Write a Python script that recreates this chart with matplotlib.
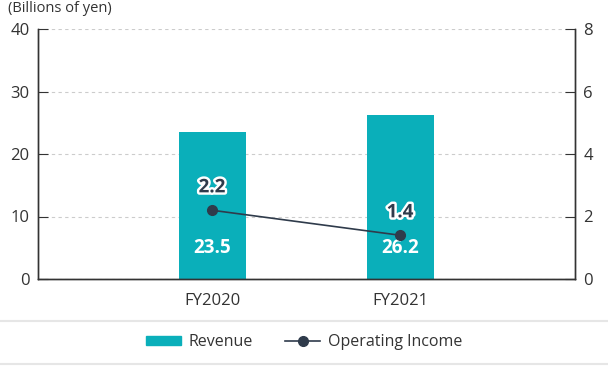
import matplotlib
matplotlib.use("Agg")
import matplotlib.pyplot as plt
import matplotlib.patheffects as pe
from matplotlib.lines import Line2D
from matplotlib.patches import Patch

# --- Data --------------------------------------------------------------------
categories = ["FY2020", "FY2021"]
revenue = [23.5, 26.2]
operating_income = [2.2, 1.4]
left_ticks = [0, 10, 20, 30, 40]
right_ticks = [0, 2, 4, 6, 8]

BAR = "#0aafba"
LINE = "#2f3b4b"
TEXT = "#333333"

plt.rcParams["font.family"] = ["Open Sans", "DejaVu Sans"]

fig = plt.figure(figsize=(6.08, 3.66), dpi=100)
ax = fig.add_axes([38 / 608, 1 - 279 / 366, (575 - 38) / 608, 250 / 366])
ax2 = ax.twinx()

x = list(range(len(categories)))
ax.bar(x, revenue, width=0.356, color=BAR, zorder=2)
ax.set_xlim(-0.926, 1.93)
ax.set_ylim(0, 40)
ax.set_yticks(left_ticks)
ax.set_xticks(x)
ax.set_xticklabels(categories)
ax.grid(axis="y", color="#cccccc", linestyle=(0, (3, 3)), linewidth=0.8, zorder=0)
ax.set_axisbelow(True)

ax2.set_ylim(0, 8)
ax2.set_yticks(right_ticks)
ax2.plot(x, operating_income, color=LINE, marker="o", markersize=7, linewidth=1.2, zorder=3)

for a in (ax, ax2):
    for s in a.spines.values():
        s.set_color("#333333")
        s.set_linewidth(1.0)
    a.spines["top"].set_visible(False)
ax.tick_params(axis="y", direction="in", length=7, colors="#333333", labelsize=12, pad=6)
ax2.tick_params(axis="y", direction="in", length=7, colors="#333333", labelsize=12, pad=6)
ax.tick_params(axis="x", length=0, labelsize=12, colors="#333333", pad=10)

# value labels
for xi, v in zip(x, revenue):
    ax.text(xi, 5, f"{v}", ha="center", va="center", color="white",
            fontsize=13.5, fontweight="bold", zorder=4)
for xi, v in zip(x, operating_income):
    ax2.annotate(f"{v}", (xi, v), xytext=(0, 16.5), textcoords="offset points",
                 ha="center", va="center", color=LINE, fontsize=13.5, fontweight="bold",
                 path_effects=[pe.withStroke(linewidth=3.5, foreground="white")], zorder=5)

fig.text(8 / 608, 1 - 8 / 366, "(Billions of yen)", ha="left", va="center",
         fontsize=10.5, color=TEXT)

# legend band
for yy in (321, 364):
    fig.add_artist(Line2D([0, 1], [1 - yy / 366] * 2, color="#e6e6e6", linewidth=1.5))
handles = [Patch(color=BAR, label="Revenue"),
           Line2D([], [], color=LINE, marker="o", markersize=7, linewidth=1.2,
                  label="Operating Income")]
fig.legend(handles=handles, loc="center", bbox_to_anchor=(0.5, 1 - 342 / 366), ncol=2,
           frameon=False, fontsize=11.5, handlelength=2.2, handleheight=0.5,
           handletextpad=0.5, columnspacing=2.0, labelcolor=TEXT)

fig.savefig("out.png", dpi=100)
